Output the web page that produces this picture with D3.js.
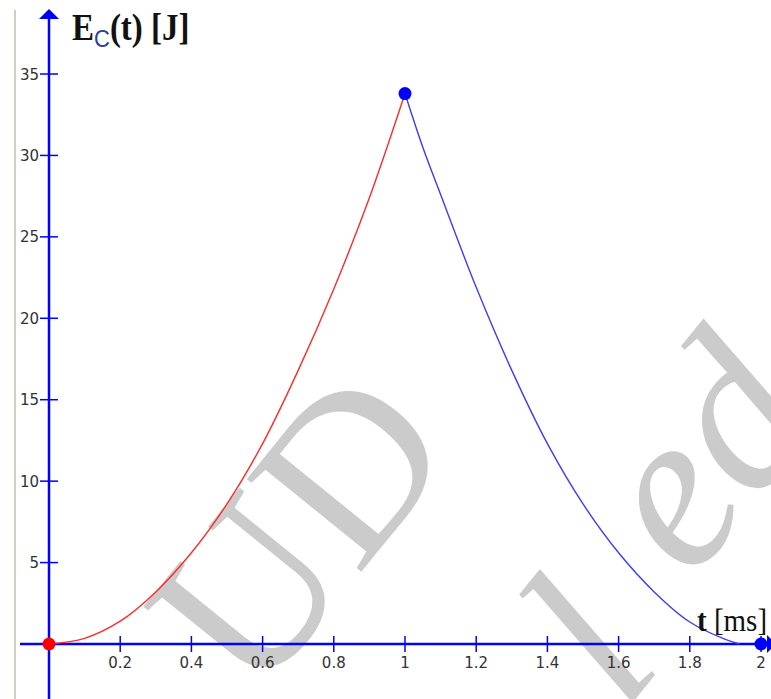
<!DOCTYPE html>
<html>
<head>
<meta charset="utf-8">
<script src="https://cdn.jsdelivr.net/npm/d3@7/dist/d3.min.js"></script>
<style>
	html, body { margin: 0; padding: 0; background: #fff; }
	svg { display: block; }
</style>
</head>
<body>
<div id="chart"></div>
<script>
// charging phase (red) and discharging phase (blue)
const chargeTime = [0, 0.1, 0.2, 0.3, 0.4, 0.5, 0.6, 0.7, 0.8, 0.9, 1.0];
const chargeEnergy = [0, 0.35, 1.4, 3.2, 5.6, 8.6, 12.3, 16.8, 21.8, 27.4, 33.8];
const dischargeTime = [1.0, 1.05, 1.1, 1.2, 1.3, 1.4, 1.5, 1.6, 1.7, 1.8, 1.9, 1.94];
const dischargeEnergy = [33.8, 30.5, 27.6, 21.9, 16.8, 12.3, 8.6, 5.6, 3.2, 1.35, 0.28, 0];

// highlighted points
const markerTime = [0, 1, 2];
const markerEnergy = [0, 33.8, 0];

const xTicks = [0.2, 0.4, 0.6, 0.8, 1, 1.2, 1.4, 1.6, 1.8, 2];
const yTicks = [5, 10, 15, 20, 25, 30, 35];

class EnergyChart {
	constructor(_config) {
		this.config = {
			parentElement: _config.parentElement,
			containerWidth: _config.containerWidth || 771,
			containerHeight: _config.containerHeight || 699,
		};
	}

	initVis() {
		let vis = this;

		vis.svg = d3
			.select(vis.config.parentElement)
			.append("svg")
			.attr("width", vis.config.containerWidth)
			.attr("height", vis.config.containerHeight);

		vis.x = d3.scaleLinear().domain([0, 2]).range([49, 761]);
		vis.y = d3.scaleLinear().domain([0, 35]).range([644, 74]);

		// window border on the far left
		vis.svg.append("line")
			.attr("x1", 15).attr("x2", 15)
			.attr("y1", 10).attr("y2", vis.config.containerHeight)
			.attr("stroke", "#d3cfbd")
			.attr("stroke-width", 2);

		vis.watermark = vis.svg.append("g").attr("class", "watermark");
		vis.axes = vis.svg.append("g").attr("class", "axes");
		vis.curves = vis.svg.append("g").attr("class", "curves");
		vis.labels = vis.svg.append("g").attr("class", "labels");

		vis.render();
	}

	render() {
		let vis = this;
		const blue = "#0000ff";

		// WATERMARK (grey letters behind the plot)
		const mark = (text, transform, italic) =>
			vis.watermark.append("text")
				.attr("transform", transform)
				.attr("font-family", "Liberation Serif")
				.attr("font-style", italic ? "italic" : "normal")
				.attr("font-size", 225)
				.attr("fill", "#cbcbcb")
				.text(text);

		mark("UD", "translate(255,703) rotate(-51)", false);
		mark("l", "translate(625,712) rotate(-51)", true);
		mark("ed", "translate(691,582) rotate(-51)", true);

		// AXES
		const x0 = vis.x(0);
		const y0 = vis.y(0);

		vis.axes.append("line")
			.attr("x1", 20).attr("x2", 771)
			.attr("y1", y0).attr("y2", y0)
			.attr("stroke", blue).attr("stroke-width", 2.5);

		vis.axes.append("line")
			.attr("x1", x0).attr("x2", x0)
			.attr("y1", 14).attr("y2", vis.config.containerHeight)
			.attr("stroke", blue).attr("stroke-width", 2.5);

		// arrow heads
		vis.axes.append("path")
			.attr("d", `M${x0},9 L${x0 - 10},19 L${x0 + 10},19 Z`)
			.attr("fill", blue);
		vis.axes.append("path")
			.attr("d", `M776,${y0} L767,${y0 - 9} L767,${y0 + 9} Z`)
			.attr("fill", blue);

		vis.axes.selectAll(".xtick")
			.data(xTicks)
			.join("line")
			.attr("class", "xtick")
			.attr("x1", (d) => vis.x(d)).attr("x2", (d) => vis.x(d))
			.attr("y1", y0 - 8).attr("y2", y0 + 8)
			.attr("stroke", blue).attr("stroke-width", 1.5);

		vis.axes.selectAll(".ytick")
			.data(yTicks)
			.join("line")
			.attr("class", "ytick")
			.attr("x1", x0 - 9).attr("x2", x0 + 9)
			.attr("y1", (d) => vis.y(d)).attr("y2", (d) => vis.y(d))
			.attr("stroke", blue).attr("stroke-width", 1.5);

		vis.axes.selectAll(".xlabel")
			.data(xTicks)
			.join("text")
			.attr("class", "xlabel")
			.attr("x", (d) => vis.x(d))
			.attr("y", y0 + 24)
			.attr("text-anchor", "middle")
			.attr("font-family", "DejaVu Sans")
			.attr("font-size", 15)
			.attr("fill", "#333")
			.text((d) => d3.format("~g")(d));

		vis.axes.selectAll(".ylabel")
			.data(yTicks)
			.join("text")
			.attr("class", "ylabel")
			.attr("x", x0 - 10)
			.attr("y", (d) => vis.y(d) + 5.5)
			.attr("text-anchor", "end")
			.attr("font-family", "DejaVu Sans")
			.attr("font-size", 15)
			.attr("fill", "#333")
			.text((d) => d);

		// CURVES
		const line = d3.line()
			.x((d) => vis.x(d[0]))
			.y((d) => vis.y(d[1]))
			.curve(d3.curveCatmullRom);

		vis.curves.append("path")
			.datum(d3.zip(chargeTime, chargeEnergy))
			.attr("d", line)
			.attr("fill", "none")
			.attr("stroke", "#ff2a2a")
			.attr("stroke-width", 1.4);

		vis.curves.append("path")
			.datum(d3.zip(dischargeTime, dischargeEnergy))
			.attr("d", line)
			.attr("fill", "none")
			.attr("stroke", "#3c3cff")
			.attr("stroke-width", 1.4);

		vis.curves.selectAll(".marker")
			.data(d3.zip(markerTime, markerEnergy))
			.join("circle")
			.attr("class", "marker")
			.attr("cx", (d) => vis.x(d[0]))
			.attr("cy", (d) => vis.y(d[1]))
			.attr("r", 6.5)
			.attr("fill", (d, i) => (i === 0 ? "#ff0000" : blue));

		// AXIS TITLES
		const yTitle = vis.labels.append("text")
			.attr("transform", "translate(72,40) scale(1,1.12)")
			.attr("font-family", "Liberation Serif")
			.attr("font-weight", "bold")
			.attr("font-size", 33)
			.attr("fill", "#111");
		yTitle.append("tspan").text("E");
		yTitle.append("tspan")
			.attr("font-family", "Liberation Sans")
			.attr("font-weight", "normal")
			.attr("font-size", 22)
			.attr("dy", 6)
			.attr("fill", "#2a3f9a")
			.text("C");
		yTitle.append("tspan").attr("dy", -6).text("(t) [J]");

		const xTitle = vis.labels.append("text")
			.attr("transform", "translate(697,631) scale(1,1.1)")
			.attr("font-family", "Liberation Serif")
			.attr("font-size", 29)
			.attr("fill", "#111");
		xTitle.append("tspan").attr("font-weight", "bold").text("t");
		xTitle.append("tspan").text(" [ms]");
	}
}

const chart = new EnergyChart({ parentElement: "#chart" });
chart.initVis();
</script>
</body>
</html>
